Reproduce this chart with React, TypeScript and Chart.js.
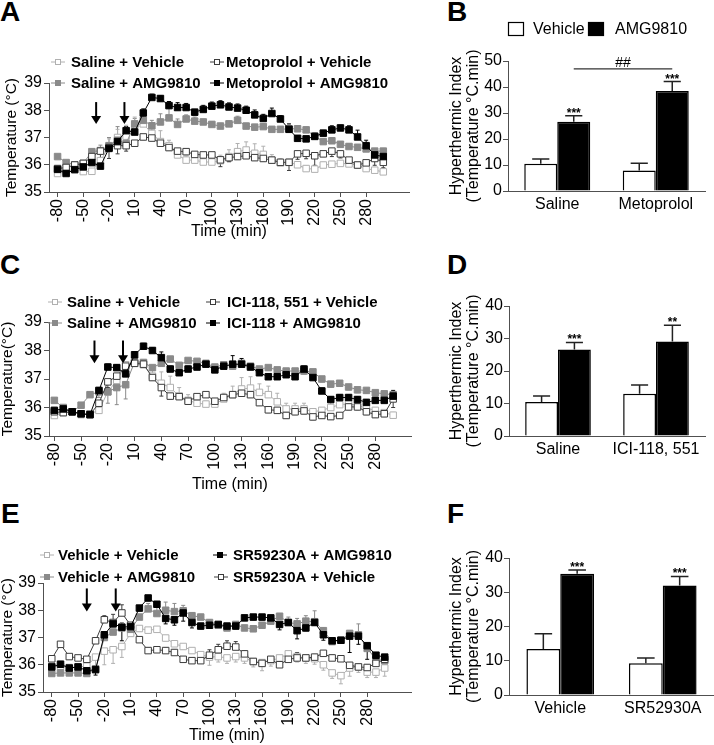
import React, { useEffect, useRef } from "react";
import { Chart, registerables } from "chart.js";

Chart.register(...registerables);

const FONT = "'Liberation Sans', Arial, Helvetica, sans-serif";
Chart.defaults.font.family = FONT;
Chart.defaults.color = "#000";

// ---------- shared axes ----------
const TIMES = [-80, -70, -60, -50, -40, -30, -20, -10, 0, 10, 20, 30, 40, 50, 60, 70, 80, 90, 100, 110, 120, 130, 140, 150, 160, 170, 180, 190, 200, 210, 220, 230, 240, 250, 260, 270, 280, 290, 300];
const TIME_TICKS = [-80, -50, -20, 10, 40, 70, 100, 130, 160, 190, 220, 250, 280];

// ---------- Panel A ----------
const A_SAL_VEH = [35.68, 35.74, 35.85, 35.75, 35.76, 36.15, 36.65, 37.0, 37.05, 37.45, 37.5, 37.15, 36.85, 36.7, 36.36, 36.17, 36.17, 36.1, 36.1, 36.15, 36.3, 36.48, 36.54, 36.42, 36.38, 36.17, 36.07, 36.09, 36.0, 35.86, 35.84, 35.99, 36.02, 36.05, 36.03, 35.99, 35.86, 35.8, 35.74];
const A_SAL_VEH_ERR = [0, 0, 0, 0, 0, 0, 0.3, 0.3, 0.4, 0.3, 0.3, 0.3, 0.4, 0.2, 0.2, 0.15, 0.1, 0.1, 0.1, 0.2, 0.25, 0.3, 0.3, 0.35, 0.3, 0.2, 0.15, 0.1, 0.1, 0.1, 0.1, 0.1, 0.1, 0.1, 0.1, 0.1, 0.1, 0.1, 0.1];
const A_SAL_AMG = [36.3, 36.08, 36.0, 36.05, 36.48, 36.52, 36.7, 36.9, 36.78, 37.5, 37.63, 37.43, 37.57, 37.72, 37.48, 37.68, 37.6, 37.57, 37.48, 37.42, 37.5, 37.63, 37.42, 37.38, 37.4, 37.3, 37.3, 37.32, 37.32, 37.28, 37.05, 36.85, 36.88, 36.75, 36.67, 36.64, 36.58, 36.5, 36.5];
const A_SAL_AMG_ERR = [0, 0, 0, 0, 0.1, 0.2, 0.3, 0.5, 0.45, 0.2, 0.3, 0.2, 0.3, 0.35, 0.2, 0.15, 0.15, 0.1, 0.1, 0.1, 0.1, 0.15, 0.1, 0.1, 0.1, 0.1, 0.1, 0.15, 0.1, 0.1, 0.1, 0.1, 0.1, 0.1, 0.1, 0.1, 0.1, 0.1, 0.1];
const A_MET_VEH = [35.86, 35.9, 35.99, 36.05, 36.3, 36.5, 36.63, 36.7, 36.7, 36.79, 37.02, 36.98, 36.79, 36.63, 36.5, 36.48, 36.38, 36.36, 36.36, 36.18, 36.26, 36.3, 36.33, 36.26, 36.23, 36.17, 36.09, 36.09, 36.4, 36.42, 36.33, 36.4, 36.5, 36.4, 36.17, 35.99, 36.07, 36.23, 36.09];
const A_MET_VEH_ERR = [0, 0, 0, 0, 0.2, 0.4, 0.4, 0.3, 0.2, 0.1, 0.1, 0.1, 0.1, 0.1, 0.1, 0.1, 0.1, 0.1, 0.1, 0.25, 0.15, 0.1, 0.1, 0.1, 0.1, 0.1, 0.1, 0.3, 0.2, 0.2, 0.35, 0.1, 0.2, 0.15, 0.15, 0.1, 0.1, 0.25, 0.2];
const A_MET_AMG = [35.83, 35.68, 35.82, 35.92, 36.08, 35.95, 36.6, 36.85, 37.25, 37.2, 37.9, 38.47, 38.43, 38.17, 38.1, 38.1, 37.93, 38.03, 38.15, 38.2, 38.12, 38.08, 38.0, 37.83, 37.7, 37.88, 37.68, 37.3, 36.97, 36.95, 37.04, 37.16, 37.28, 37.35, 37.28, 37.02, 36.7, 36.36, 36.3];
const A_MET_AMG_ERR = [0, 0, 0, 0.1, 0.1, 0.15, 0.2, 0.2, 0.15, 0.1, 0.15, 0.12, 0.1, 0.15, 0.18, 0.15, 0.1, 0.15, 0.15, 0.15, 0.15, 0.15, 0.15, 0.18, 0.15, 0.2, 0.12, 0.2, 0.1, 0.08, 0.12, 0.1, 0.15, 0.1, 0.15, 0.25, 0.2, 0.15, 0.1];
const A_ARROWS = [-35, -2];

// ---------- Panel C ----------
const C_SAL_VEH = [35.72, 35.82, 35.85, 35.75, 35.78, 35.9, 36.55, 36.95, 37.5, 37.55, 37.5, 37.1, 36.85, 36.7, 36.4, 36.25, 36.15, 36.12, 36.12, 36.3, 36.45, 36.65, 36.68, 36.53, 36.45, 36.2, 35.95, 35.95, 35.95, 35.85, 35.9, 36.0, 36.1, 36.13, 36.07, 35.98, 35.9, 35.82, 35.73];
const C_SAL_VEH_ERR = [0, 0, 0, 0, 0, 0, 0, 0, 0, 0, 0.1, 0.2, 0.4, 0.4, 0.3, 0.2, 0.1, 0.1, 0.1, 0.2, 0.3, 0.4, 0.4, 0.3, 0.3, 0.3, 0.2, 0.2, 0.2, 0.1, 0.1, 0.2, 0.15, 0.1, 0.1, 0.1, 0.1, 0.1, 0.1];
const C_SAL_AMG = [36.25, 36.0, 35.85, 36.08, 36.45, 36.55, 36.55, 36.7, 36.8, 37.6, 37.58, 37.4, 37.55, 37.7, 37.48, 37.65, 37.62, 37.55, 37.42, 37.5, 37.45, 37.55, 37.45, 37.35, 37.4, 37.32, 37.28, 37.28, 37.28, 37.25, 37.0, 36.82, 36.85, 36.72, 36.62, 36.6, 36.52, 36.48, 36.45];
const C_SAL_AMG_ERR = [0, 0.1, 0, 0, 0, 0.2, 0.4, 0.6, 0.5, 0.1, 0.1, 0.1, 0.1, 0.1, 0.1, 0.1, 0.1, 0.1, 0.1, 0.1, 0.1, 0.1, 0.1, 0.1, 0.1, 0.1, 0.1, 0.1, 0.1, 0.1, 0.1, 0.1, 0.1, 0.1, 0.1, 0.1, 0.1, 0.1, 0.1];
const C_ICI_VEH = [35.85, 35.82, 35.85, 35.78, 35.75, 36.15, 36.9, 37.1, 37.45, 37.55, 37.52, 37.05, 36.7, 36.4, 36.38, 36.22, 36.38, 36.45, 36.22, 36.35, 36.45, 36.5, 36.45, 36.17, 35.92, 35.9, 35.72, 35.85, 35.88, 35.67, 35.72, 35.68, 35.72, 36.02, 36.02, 35.85, 35.75, 35.78, 36.3];
const C_ICI_VEH_ERR = [0, 0.1, 0.1, 0.1, 0.1, 0.2, 0.2, 0.2, 0.1, 0.1, 0.1, 0.1, 0.3, 0.1, 0.1, 0.1, 0.1, 0.1, 0.1, 0.1, 0.1, 0.1, 0.1, 0.1, 0.1, 0.1, 0.1, 0.1, 0.1, 0.1, 0.1, 0.1, 0.1, 0.1, 0.1, 0.1, 0.1, 0.1, 0.3];
const C_ICI_AMG = [35.9, 35.95, 35.85, 35.78, 35.75, 36.6, 37.42, 37.4, 37.18, 37.85, 38.15, 38.0, 37.75, 37.35, 37.22, 37.35, 37.42, 37.52, 37.32, 37.45, 37.52, 37.52, 37.42, 37.22, 37.08, 37.08, 37.15, 37.08, 37.35, 37.05, 36.58, 36.28, 36.35, 36.35, 36.28, 36.18, 36.25, 36.25, 36.4];
const C_ICI_AMG_ERR = [0, 0, 0, 0, 0, 0.1, 0.1, 0.1, 0.1, 0.1, 0.1, 0.1, 0.2, 0.1, 0.1, 0.1, 0.1, 0.1, 0.1, 0.15, 0.3, 0.2, 0.1, 0.1, 0.1, 0.1, 0.2, 0.2, 0.1, 0.1, 0.1, 0.1, 0.1, 0.1, 0.1, 0.1, 0.1, 0.1, 0.2];
const C_ARROWS = [-35, -3];

// ---------- Panel E ----------
const E_VEH_VEH = [35.95, 35.95, 35.9, 35.92, 35.95, 36.28, 36.5, 36.55, 36.67, 37.15, 37.33, 37.27, 37.3, 36.98, 36.77, 36.67, 36.52, 36.37, 36.28, 36.3, 36.25, 36.3, 36.25, 36.12, 36.08, 36.15, 36.25, 36.4, 36.3, 36.25, 36.22, 36.0, 35.7, 35.6, 35.88, 35.92, 35.73, 35.73, 35.88];
const E_VEH_VEH_ERR = [0, 0, 0, 0, 0, 0.5, 0.5, 0.5, 0.4, 0.1, 0.1, 0.1, 0.1, 0.1, 0.1, 0.1, 0.1, 0.1, 0.3, 0.2, 0.2, 0.2, 0.2, 0.2, 0.3, 0.2, 0.2, 0.3, 0.2, 0.2, 0.2, 0.2, 0.2, 0.3, 0.3, 0.2, 0.2, 0.2, 0.3];
const E_VEH_AMG = [35.68, 35.7, 35.7, 35.7, 35.68, 35.85, 37.0, 37.2, 37.35, 37.3, 37.75, 38.05, 37.88, 38.0, 37.95, 37.98, 37.8, 37.75, 37.55, 37.45, 37.35, 37.48, 37.35, 37.32, 37.45, 37.6, 37.78, 37.55, 37.5, 37.6, 37.58, 37.25, 36.85, 36.9, 37.15, 37.1, 36.6, 36.2, 36.15];
const E_VEH_AMG_ERR = [0, 0, 0, 0, 0, 0, 0.1, 0.1, 0.2, 0.1, 0.1, 0.2, 0.3, 0.3, 0.3, 0.2, 0.1, 0.1, 0.1, 0.1, 0.1, 0.1, 0.1, 0.1, 0.1, 0.2, 0.1, 0.2, 0.2, 0.2, 0.4, 0.1, 0.1, 0.1, 0.1, 0.4, 0.1, 0.1, 0.1];
const E_SR_AMG = [35.92, 36.02, 35.88, 35.92, 35.78, 35.82, 37.1, 37.5, 37.38, 37.4, 38.08, 38.45, 38.22, 37.7, 37.65, 37.9, 37.55, 37.42, 37.45, 37.48, 37.42, 37.42, 37.72, 37.75, 37.75, 37.72, 37.48, 37.55, 37.25, 37.35, 37.55, 37.1, 36.88, 36.9, 37.05, 37.05, 36.7, 36.35, 36.28];
const E_SR_AMG_ERR = [0, 0, 0, 0, 0, 0.2, 0.1, 0.1, 0.5, 0.1, 0.1, 0.1, 0.1, 0.2, 0.2, 0.3, 0.2, 0.1, 0.1, 0.1, 0.1, 0.1, 0.1, 0.1, 0.1, 0.1, 0.2, 0.1, 0.3, 0.1, 0.1, 0.2, 0.1, 0.1, 0.6, 0.3, 0.5, 0.2, 0.1];
const E_SR_VEH = [36.22, 36.75, 36.3, 36.25, 36.2, 36.88, 37.65, 37.55, 37.9, 37.45, 36.92, 36.52, 36.55, 36.52, 36.45, 36.2, 36.15, 36.15, 36.35, 36.55, 36.68, 36.65, 36.4, 36.12, 36.05, 36.2, 36.0, 36.2, 36.25, 36.25, 36.28, 36.42, 36.25, 36.22, 35.98, 35.92, 35.9, 36.05, 36.2];
const E_SR_VEH_ERR = [0.1, 0.1, 0, 0, 0, 0, 0.15, 0.3, 0.3, 0.1, 0.1, 0.1, 0.1, 0.1, 0.1, 0.1, 0.1, 0.1, 0.2, 0.2, 0.2, 0.2, 0.1, 0.1, 0.1, 0.1, 0.1, 0.1, 0.2, 0.1, 0.1, 0.1, 0.1, 0.1, 0.1, 0.1, 0.1, 0.1, 0.1];
const E_ARROWS = [-40, -7];

// ---------- Bar panels ----------
const B_GROUPS = ["Saline", "Metoprolol"];
const B_VEH = [10.5, 7.9];
const B_VEH_ERR = [1.8, 2.8];
const B_AMG = [26.6, 38.5];
const B_AMG_ERR = [2.3, 3.6];
const B_STARS = ["***", "***"];

const D_GROUPS = ["Saline", "ICI-118, 551"];
const D_VEH = [10.5, 13.0];
const D_VEH_ERR = [1.8, 2.7];
const D_AMG = [26.6, 29.1];
const D_AMG_ERR = [2.2, 5.0];
const D_STARS = ["***", "**"];

const F_GROUPS = ["Vehicle", "SR52930A"];
const F_VEH = [13.4, 9.3];
const F_VEH_ERR = [4.5, 1.5];
const F_AMG = [35.4, 32.0];
const F_AMG_ERR = [1.1, 2.6];
const F_STARS = ["***", "***"];

// ---------- styles ----------
const C_LIGHT = "#b0b0b0";
const C_GREY = "#8a8a8a";
const C_DARK = "#3c3c3c";
const C_BLACK = "#000000";
const AXIS = "#505050";

type Series = { label: string; values: number[]; errors: number[]; dir: number; color: string; open: boolean };

function lineDataset(s: Series) {
  return {
    label: s.label,
    data: TIMES.map((t, i) => ({ x: t, y: s.values[i] })),
    borderColor: s.color,
    borderWidth: 1,
    backgroundColor: s.open ? "#ffffff" : s.color,
    pointStyle: "rect",
    pointRadius: 4.6,
    pointBorderColor: s.color,
    pointBackgroundColor: s.open ? "#ffffff" : s.color,
    pointBorderWidth: 1,
    tension: 0,
    errors: s.errors,
    errDir: s.dir,
  };
}

const lineErrorPlugin = {
  id: "lineErr",
  beforeDatasetsDraw(chart: any) {
    const ctx = chart.ctx;
    const y = chart.scales.y;
    chart.data.datasets.forEach((ds: any, di: number) => {
      if (!ds.errors) return;
      const meta = chart.getDatasetMeta(di);
      ctx.save();
      ctx.strokeStyle = ds.borderColor;
      ctx.lineWidth = 1;
      meta.data.forEach((pt: any, i: number) => {
        const e = ds.errors[i];
        if (!e) return;
        const y1 = y.getPixelForValue(ds.data[i].y + ds.errDir * e);
        ctx.beginPath();
        ctx.moveTo(pt.x, pt.y);
        ctx.lineTo(pt.x, y1);
        ctx.moveTo(pt.x - 2, y1);
        ctx.lineTo(pt.x + 2, y1);
        ctx.stroke();
      });
      ctx.restore();
    });
  },
};

function makeArrowPlugin(times: number[], top: number, bottom: number) {
  return {
    id: "arrows",
    afterDatasetsDraw(chart: any) {
      const { ctx } = chart;
      const x = chart.scales.x;
      const y = chart.scales.y;
      times.forEach((t) => {
        const px = x.getPixelForValue(t);
        const py0 = y.getPixelForValue(top);
        const py1 = y.getPixelForValue(bottom);
        ctx.save();
        ctx.strokeStyle = "#000";
        ctx.fillStyle = "#000";
        ctx.lineWidth = 2;
        ctx.beginPath();
        ctx.moveTo(px, py0);
        ctx.lineTo(px, py1 - 7);
        ctx.stroke();
        ctx.beginPath();
        ctx.moveTo(px - 5, py1 - 8);
        ctx.lineTo(px + 5, py1 - 8);
        ctx.lineTo(px, py1);
        ctx.closePath();
        ctx.fill();
        ctx.restore();
      });
    },
  };
}

type LegItem = { ds: number; mx: number; tx: number; y: number };
function makeLineLegend(items: LegItem[], fontSize: number) {
  return {
    id: "lineLegend",
    afterDraw(chart: any) {
      const ctx = chart.ctx;
      items.forEach((it) => {
        const ds = chart.data.datasets[it.ds];
        ctx.save();
        ctx.strokeStyle = ds.borderColor;
        ctx.lineWidth = 1;
        ctx.beginPath();
        ctx.moveTo(it.mx - 7, it.y);
        ctx.lineTo(it.mx + 7, it.y);
        ctx.stroke();
        ctx.fillStyle = ds.pointBackgroundColor;
        ctx.fillRect(it.mx - 3, it.y - 3, 6, 6);
        ctx.strokeRect(it.mx - 3 + 0.5, it.y - 3 + 0.5, 5, 5);
        ctx.fillStyle = "#000";
        ctx.font = `bold ${fontSize}px ${FONT}`;
        ctx.textBaseline = "middle";
        ctx.textAlign = "left";
        ctx.fillText(ds.label, it.tx, it.y + 1);
        ctx.restore();
      });
    },
  };
}

type LineCfg = {
  series: Series[];
  legend: LegItem[];
  arrows: number[];
  arrowTop: number;
  arrowBottom: number;
  xMin: number;
  xMax: number;
  padT: number;
  padR: number;
  yW: number;
  xH: number;
  xTitlePad: number;
  yTitle: string;
  yTitlePad: number;
};

function lineConfig(c: LineCfg): any {
  return {
    type: "line",
    data: { datasets: c.series.map(lineDataset) },
    options: {
      responsive: false,
      animation: false,
      layout: { padding: { top: c.padT, right: c.padR, left: 0, bottom: 0 } },
      plugins: { legend: { display: false }, tooltip: { enabled: false } },
      scales: {
        x: {
          type: "linear",
          min: c.xMin,
          max: c.xMax,
          afterBuildTicks: (s: any) => {
            s.ticks = TIME_TICKS.map((v) => ({ value: v }));
          },
          afterFit: (s: any) => {
            s.height = c.xH;
          },
          ticks: {
            autoSkip: false,
            minRotation: 90,
            maxRotation: 90,
            padding: 2,
            font: { size: 16 },
            color: "#000",
            callback: (v: any) => String(v),
          },
          grid: { drawOnChartArea: false, drawTicks: true, tickLength: 5, color: AXIS },
          border: { display: true, color: AXIS, width: 1 },
          title: { display: true, text: "Time (min)", font: { size: 16 }, color: "#000", padding: { top: 0, bottom: c.xTitlePad } },
        },
        y: {
          min: 35,
          max: 39,
          afterFit: (s: any) => {
            s.width = c.yW;
          },
          ticks: { stepSize: 1, padding: 2, font: { size: 16 }, color: "#000" },
          grid: { drawOnChartArea: false, drawTicks: true, tickLength: 5, color: AXIS },
          border: { display: true, color: AXIS, width: 1 },
          title: { display: true, text: c.yTitle, font: { size: 15.5, lineHeight: 1 }, color: "#000", padding: { top: c.yTitlePad, bottom: 0 } },
        },
      },
    },
    plugins: [lineErrorPlugin, makeArrowPlugin(c.arrows, c.arrowTop, c.arrowBottom), makeLineLegend(c.legend, 15)],
  };
}

const barErrorPlugin = {
  id: "barErr",
  afterDatasetsDraw(chart: any) {
    const ctx = chart.ctx;
    const y = chart.scales.y;
    chart.data.datasets.forEach((ds: any, di: number) => {
      const meta = chart.getDatasetMeta(di);
      meta.data.forEach((bar: any, i: number) => {
        const v = ds.data[i];
        const e = ds.errors[i];
        const top = y.getPixelForValue(v + e);
        const half = bar.width * 0.26;
        ctx.save();
        ctx.strokeStyle = "#222";
        ctx.lineWidth = 1.5;
        ctx.beginPath();
        ctx.moveTo(bar.x, bar.y);
        ctx.lineTo(bar.x, top);
        ctx.moveTo(bar.x - half, top);
        ctx.lineTo(bar.x + half, top);
        ctx.stroke();
        if (ds.stars && ds.stars[i]) {
          ctx.fillStyle = "#000";
          ctx.font = `bold 12px ${FONT}`;
          ctx.textAlign = "center";
          ctx.textBaseline = "alphabetic";
          ctx.fillText(ds.stars[i], bar.x, top + 1);
        }
        ctx.restore();
      });
    });
  },
};

type BarLeg = { ds: number; bx: number; tx: number; y: number };
function makeBarLegend(items: BarLeg[]) {
  return {
    id: "barLegend",
    afterDraw(chart: any) {
      const ctx = chart.ctx;
      items.forEach((it) => {
        const ds = chart.data.datasets[it.ds];
        ctx.save();
        ctx.fillStyle = ds.backgroundColor;
        ctx.fillRect(it.bx, it.y - 7, 16, 14);
        ctx.strokeStyle = "#000";
        ctx.lineWidth = 1.2;
        ctx.strokeRect(it.bx + 0.5, it.y - 7 + 0.5, 15, 13);
        ctx.fillStyle = "#000";
        ctx.font = `16px ${FONT}`;
        ctx.textBaseline = "middle";
        ctx.textAlign = "left";
        ctx.fillText(ds.label, it.tx, it.y + 1);
        ctx.restore();
      });
    },
  };
}

function makeBracket(ds: number, g0: number, g1: number, value: number, text: string) {
  return {
    id: "bracket",
    afterDraw(chart: any) {
      const ctx = chart.ctx;
      const meta = chart.getDatasetMeta(ds);
      const x0 = meta.data[g0].x;
      const x1 = meta.data[g1].x;
      const py = chart.scales.y.getPixelForValue(value);
      ctx.save();
      ctx.strokeStyle = "#333";
      ctx.lineWidth = 1.2;
      ctx.beginPath();
      ctx.moveTo(x0, py);
      ctx.lineTo(x1, py);
      ctx.stroke();
      ctx.fillStyle = "#000";
      ctx.font = `14px ${FONT}`;
      ctx.textAlign = "center";
      ctx.textBaseline = "alphabetic";
      ctx.fillText(text, (x0 + x1) / 2, py - 2);
      ctx.restore();
    },
  };
}

type BarCfg = {
  groups: string[];
  veh: number[];
  vehErr: number[];
  amg: number[];
  amgErr: number[];
  stars: string[];
  yMax: number;
  padT: number;
  padR: number;
  yW: number;
  xH: number;
  catPct: number;
  extra: any[];
};

function barConfig(c: BarCfg): any {
  return {
    type: "bar",
    data: {
      labels: c.groups,
      datasets: [
        {
          label: "Vehicle",
          data: c.veh,
          errors: c.vehErr,
          backgroundColor: "#ffffff",
          borderColor: "#000",
          borderWidth: 1.5,
          barPercentage: 1,
          categoryPercentage: c.catPct,
        },
        {
          label: "AMG9810",
          data: c.amg,
          errors: c.amgErr,
          stars: c.stars,
          backgroundColor: "#000000",
          borderColor: "#000",
          borderWidth: 1.5,
          barPercentage: 1,
          categoryPercentage: c.catPct,
        },
      ],
    },
    options: {
      responsive: false,
      animation: false,
      layout: { padding: { top: c.padT, right: c.padR, left: 0, bottom: 0 } },
      plugins: { legend: { display: false }, tooltip: { enabled: false } },
      scales: {
        x: {
          afterFit: (s: any) => {
            s.height = c.xH;
          },
          ticks: { padding: 4, font: { size: 16 }, color: "#000" },
          grid: { display: true, drawOnChartArea: false, drawTicks: false, color: AXIS },
          border: { display: true, color: AXIS, width: 1 },
        },
        y: {
          min: 0,
          max: c.yMax,
          afterFit: (s: any) => {
            s.width = c.yW;
          },
          ticks: { stepSize: 10, padding: 1, font: { size: 16 }, color: "#000" },
          grid: { drawOnChartArea: false, drawTicks: true, tickLength: 5, color: AXIS },
          border: { display: true, color: AXIS, width: 1 },
          title: {
            display: true,
            text: ["Hyperthermic Index", "(Temperature °C.min)"],
            font: { size: 16, lineHeight: 1.08 },
            color: "#000",
            padding: { top: 3, bottom: 0 },
          },
        },
      },
    },
    plugins: [barErrorPlugin, ...c.extra],
  };
}

function ChartBox({ left, top, width, height, make }: { left: number; top: number; width: number; height: number; make: () => any }) {
  const ref = useRef<HTMLCanvasElement>(null);
  useEffect(() => {
    const chart = new Chart(ref.current as HTMLCanvasElement, make());
    return () => chart.destroy();
  }, []);
  return (
    <div style={{ position: "absolute", left, top, width, height }}>
      <canvas ref={ref} width={width} height={height} style={{ display: "block", width, height }} />
    </div>
  );
}

function Letter({ text, left, top }: { text: string; left: number; top: number }) {
  return (
    <div style={{ position: "absolute", left, top, fontFamily: FONT, fontWeight: "bold", fontSize: 28, lineHeight: "28px" }}>{text}</div>
  );
}

export default function App() {
  return (
    <div style={{ position: "absolute", left: 0, top: 0, width: 714, height: 745, background: "#fff", overflow: "hidden" }}>
      <Letter text="A" left={0} top={-2} />
      <Letter text="B" left={447} top={-2} />
      <Letter text="C" left={0} top={251} />
      <Letter text="D" left={447} top={251} />
      <Letter text="E" left={1} top={500} />
      <Letter text="F" left={447} top={500} />

      <ChartBox
        left={0}
        top={45}
        width={425}
        height={200}
        make={() =>
          lineConfig({
            series: [
              { label: "Metoprolol + AMG9810", values: A_MET_AMG, errors: A_MET_AMG_ERR, dir: 1, color: C_BLACK, open: false },
              { label: "Metoprolol + Vehicle", values: A_MET_VEH, errors: A_MET_VEH_ERR, dir: -1, color: C_DARK, open: true },
              { label: "Saline + AMG9810", values: A_SAL_AMG, errors: A_SAL_AMG_ERR, dir: 1, color: C_GREY, open: false },
              { label: "Saline + Vehicle", values: A_SAL_VEH, errors: A_SAL_VEH_ERR, dir: 1, color: C_LIGHT, open: true },
            ],
            legend: [
              { ds: 3, mx: 58, tx: 71, y: 17 },
              { ds: 1, mx: 217, tx: 226, y: 17 },
              { ds: 2, mx: 58, tx: 71, y: 38 },
              { ds: 0, mx: 217, tx: 226, y: 38 },
            ],
            arrows: A_ARROWS,
            arrowTop: 38.3,
            arrowBottom: 37.5,
            xMin: -90,
            xMax: 330,
            padT: 38,
            padR: 16,
            yW: 49,
            xH: 53,
            xTitlePad: 4,
            yTitle: "Temperature (°C)",
            yTitlePad: 4,
          })
        }
      />

      <ChartBox
        left={445}
        top={15}
        width={269}
        height={215}
        make={() =>
          barConfig({
            groups: B_GROUPS,
            veh: B_VEH,
            vehErr: B_VEH_ERR,
            amg: B_AMG,
            amgErr: B_AMG_ERR,
            stars: B_STARS,
            yMax: 50,
            padT: 46,
            padR: 9,
            yW: 63,
            xH: 39,
            catPct: 0.67,
            extra: [
              makeBarLegend([
                { ds: 0, bx: 63, tx: 88, y: 14 },
                { ds: 1, bx: 143, tx: 170, y: 14 },
              ]),
              makeBracket(1, 0, 1, 47, "##"),
            ],
          })
        }
      />

      <ChartBox
        left={0}
        top={285}
        width={425}
        height={215}
        make={() =>
          lineConfig({
            series: [
              { label: "ICI-118 + AMG9810", values: C_ICI_AMG, errors: C_ICI_AMG_ERR, dir: 1, color: C_BLACK, open: false },
              { label: "ICI-118, 551 + Vehicle", values: C_ICI_VEH, errors: C_ICI_VEH_ERR, dir: -1, color: C_DARK, open: true },
              { label: "Saline + AMG9810", values: C_SAL_AMG, errors: C_SAL_AMG_ERR, dir: -1, color: C_GREY, open: false },
              { label: "Saline + Vehicle", values: C_SAL_VEH, errors: C_SAL_VEH_ERR, dir: 1, color: C_LIGHT, open: true },
            ],
            legend: [
              { ds: 3, mx: 55, tx: 67, y: 17 },
              { ds: 1, mx: 213, tx: 227, y: 17 },
              { ds: 2, mx: 55, tx: 67, y: 38 },
              { ds: 0, mx: 213, tx: 227, y: 38 },
            ],
            arrows: C_ARROWS,
            arrowTop: 38.35,
            arrowBottom: 37.55,
            xMin: -86,
            xMax: 320,
            padT: 37,
            padR: 14,
            yW: 49,
            xH: 64,
            xTitlePad: 6,
            yTitle: "Temperature(°C)",
            yTitlePad: 0,
          })
        }
      />

      <ChartBox
        left={445}
        top={265}
        width={269}
        height={210}
        make={() =>
          barConfig({
            groups: D_GROUPS,
            veh: D_VEH,
            vehErr: D_VEH_ERR,
            amg: D_AMG,
            amgErr: D_AMG_ERR,
            stars: D_STARS,
            yMax: 40,
            padT: 41,
            padR: 9,
            yW: 64,
            xH: 39,
            catPct: 0.67,
            extra: [],
          })
        }
      />

      <ChartBox
        left={0}
        top={530}
        width={425}
        height={215}
        make={() =>
          lineConfig({
            series: [
              { label: "SR59230A + AMG9810", values: E_SR_AMG, errors: E_SR_AMG_ERR, dir: -1, color: C_BLACK, open: false },
              { label: "SR59230A + Vehicle", values: E_SR_VEH, errors: E_SR_VEH_ERR, dir: 1, color: C_DARK, open: true },
              { label: "Vehicle + AMG9810", values: E_VEH_AMG, errors: E_VEH_AMG_ERR, dir: 1, color: C_GREY, open: false },
              { label: "Vehicle + Vehicle", values: E_VEH_VEH, errors: E_VEH_VEH_ERR, dir: -1, color: C_LIGHT, open: true },
            ],
            legend: [
              { ds: 3, mx: 47, tx: 58, y: 25 },
              { ds: 0, mx: 220, tx: 233, y: 25 },
              { ds: 2, mx: 47, tx: 58, y: 47 },
              { ds: 1, mx: 221, tx: 233, y: 47 },
            ],
            arrows: E_ARROWS,
            arrowTop: 38.8,
            arrowBottom: 37.95,
            xMin: -90,
            xMax: 330,
            padT: 53,
            padR: 14,
            yW: 43,
            xH: 53,
            xTitlePad: 0,
            yTitle: "Temperature (°C)",
            yTitlePad: 0,
          })
        }
      />

      <ChartBox
        left={445}
        top={515}
        width={269}
        height={230}
        make={() =>
          barConfig({
            groups: F_GROUPS,
            veh: F_VEH,
            vehErr: F_VEH_ERR,
            amg: F_AMG,
            amgErr: F_AMG_ERR,
            stars: F_STARS,
            yMax: 40,
            padT: 43,
            padR: 0,
            yW: 64,
            xH: 50,
            catPct: 0.66,
            extra: [],
          })
        }
      />
    </div>
  );
}
